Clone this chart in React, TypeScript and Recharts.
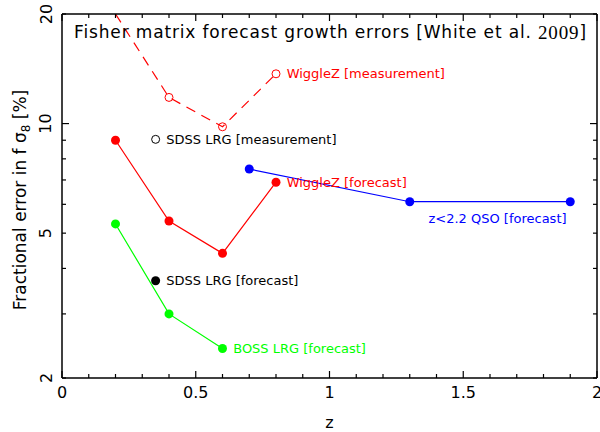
import React from 'react';
import { ComposedChart, Line, XAxis, YAxis, ReferenceDot, Customized } from 'recharts';

// ---- data ----
const wigglezZ = [0.2, 0.4, 0.6, 0.8];
const wigglezMeasErr = [20, 11.8, 9.8, 13.7];
const wigglezFcErr = [9.0, 5.4, 4.4, 6.9];
const bossZ = [0.2, 0.4, 0.6];
const bossErr = [5.3, 3.0, 2.41];
const qsoZ = [0.7, 1.3, 1.9];
const qsoErr = [7.5, 6.1, 6.1];
const sdssZ = [0.35];
const sdssMeasErr = [9.05];
const sdssFcErr = [3.7];

const xTicks = [0, 0.1, 0.2, 0.3, 0.4, 0.5, 0.6, 0.7, 0.8, 0.9, 1, 1.1, 1.2, 1.3, 1.4, 1.5, 1.6, 1.7, 1.8, 1.9, 2];
const xMajorTicks = [0, 0.5, 1, 1.5, 2];
const xTickLabels = ['0', '0.5', '1', '1.5', '2'];
const yTicks = [2, 3, 4, 5, 6, 7, 8, 9, 10, 20];
const yMajorTicks = [10];
const yLabelTicks = [2, 5, 10, 20];

const labelTexts = ['WiggleZ [measurement]', 'SDSS LRG [measurement]', 'WiggleZ [forecast]', 'z<2.2 QSO [forecast]', 'SDSS LRG [forecast]', 'BOSS LRG [forecast]'];
const labelZ = [0.84, 0.39, 0.84, 1.37, 0.39, 0.64];
const labelErr = [13.7, 9.05, 6.9, 5.5, 3.7, 2.41];

const titleText = 'Fisher matrix forecast growth errors [White et al. ';
const titleYear = '2009';
const titleClose = ']';
const titleZ = 0.045;
const titleErr = 17.9;

const yTitle = 'Fractional error in f σ';
const yTitleSub = '8';
const yTitleEnd = ' [%]';
const xTitle = 'z';

// ---- styles ----
const RED = '#ff0000';
const GREEN = '#00ff00';
const BLUE = '#0000ff';
const BLACK = '#000000';
const labelColors = [RED, BLACK, RED, BLUE, BLACK, GREEN];
const FONT = 'DejaVu Sans';

const toPts = (zs: number[], ys: number[]) => zs.map((z, i) => ({ z, y: ys[i] }));
const wigglezMeas = toPts(wigglezZ, wigglezMeasErr);
const wigglezFc = toPts(wigglezZ, wigglezFcErr);
const boss = toPts(bossZ, bossErr);
const qso = toPts(qsoZ, qsoErr);
const sdssMeas = toPts(sdssZ, sdssMeasErr);
const sdssFc = toPts(sdssZ, sdssFcErr);

const near = (a: number, b: number) => Math.abs(a - b) < 1e-6;

const BottomTick = (p: any) => {
  const v = p.payload.value;
  const idx = xMajorTicks.findIndex((m) => near(m, v));
  const major = idx >= 0;
  const y0 = p.y;
  return (
    <g>
      <line x1={p.x} x2={p.x} y1={y0} y2={y0 - (major ? 7 : 4)} stroke={BLACK} strokeWidth={1.2} />
      {major && (
        <text x={p.x} y={y0 + 20} textAnchor="middle" fontFamily={FONT} fontSize={16} fill={BLACK}>
          {xTickLabels[idx]}
        </text>
      )}
    </g>
  );
};

const TopTick = (p: any) => {
  const v = p.payload.value;
  const major = xMajorTicks.some((m) => near(m, v));
  return <line x1={p.x} x2={p.x} y1={p.y} y2={p.y + (major ? 7 : 4)} stroke={BLACK} strokeWidth={1.2} />;
};

const LeftTick = (p: any) => {
  const v = p.payload.value;
  const major = yMajorTicks.some((m) => near(m, v));
  const lab = yLabelTicks.some((m) => near(m, v));
  const tx = p.x - 16;
  return (
    <g>
      <line x1={p.x} x2={p.x + (major ? 7 : 4)} y1={p.y} y2={p.y} stroke={BLACK} strokeWidth={1.2} />
      {lab && (
        <text
          x={tx}
          y={p.y}
          transform={`rotate(-90 ${tx} ${p.y})`}
          textAnchor="middle"
          dominantBaseline="central"
          fontFamily={FONT}
          fontSize={16}
          fill={BLACK}
        >
          {String(v)}
        </text>
      )}
    </g>
  );
};

const RightTick = (p: any) => {
  const v = p.payload.value;
  const major = yMajorTicks.some((m) => near(m, v));
  return <line x1={p.x} x2={p.x - (major ? 7 : 4)} y1={p.y} y2={p.y} stroke={BLACK} strokeWidth={1.2} />;
};

const OpenDot = (color: string, skipFirst: boolean) => (p: any) => {
  if (skipFirst && p.index === 0) return <g key={`d${p.index}`} />;
  return <circle key={`d${p.index}`} cx={p.cx} cy={p.cy} r={4} fill="none" stroke={color} strokeWidth={1} />;
};

const FilledDot = (color: string) => ({ r: 4.5, fill: color, stroke: color, strokeWidth: 0 });

const AxisTitles = (props: any) => {
  const off = props.offset ?? { left: 62, top: 14, width: 535, height: 364 };
  const cy = off.top + off.height / 2 + 4;
  const cx = off.left + off.width / 2;
  return (
    <g>
      <text
        x={26}
        y={cy}
        transform={`rotate(-90 26 ${cy})`}
        textAnchor="middle"
        fontFamily={FONT}
        fontSize={17}
        fill={BLACK}
      >
        {yTitle}
        <tspan fontSize={12} dy={4}>{yTitleSub}</tspan>
        <tspan dy={-4}>{yTitleEnd}</tspan>
      </text>
      <text x={cx} y={428} textAnchor="middle" fontFamily={FONT} fontSize={16} fill={BLACK}>
        {xTitle}
      </text>
    </g>
  );
};

export default function App() {
  return (
    <div style={{ position: 'absolute', left: 0, top: 0, background: '#fff' }}>
      <ComposedChart width={600} height={432} margin={{ top: 13, right: 2, bottom: 53, left: 61 }}>
        <XAxis
          dataKey="z"
          type="number"
          domain={[0, 2]}
          ticks={xTicks}
          interval={0}
          height={1}
          tickSize={0}
          tickMargin={0}
          tickLine={false}
          tick={<BottomTick />}
          axisLine={{ stroke: BLACK, strokeWidth: 1.5 }}
          allowDataOverflow
        />
        <XAxis
          xAxisId="top"
          orientation="top"
          dataKey="z"
          type="number"
          domain={[0, 2]}
          ticks={xTicks}
          interval={0}
          height={1}
          tickSize={0}
          tickMargin={0}
          tickLine={false}
          tick={<TopTick />}
          axisLine={{ stroke: BLACK, strokeWidth: 1.5 }}
          allowDataOverflow
        />
        <YAxis
          type="number"
          scale="log"
          domain={[2, 20]}
          ticks={yTicks}
          interval={0}
          width={1}
          tickSize={0}
          tickMargin={0}
          tickLine={false}
          tick={<LeftTick />}
          axisLine={{ stroke: BLACK, strokeWidth: 1.5 }}
          allowDataOverflow
        />
        <YAxis
          yAxisId="right"
          orientation="right"
          type="number"
          scale="log"
          domain={[2, 20]}
          ticks={yTicks}
          interval={0}
          width={1}
          tickSize={0}
          tickMargin={0}
          tickLine={false}
          tick={<RightTick />}
          axisLine={{ stroke: BLACK, strokeWidth: 1.5 }}
          allowDataOverflow
        />

        <Line data={wigglezMeas} dataKey="y" stroke={RED} strokeWidth={1.2} strokeDasharray="10 7" dot={OpenDot(RED, true)} isAnimationActive={false} />
        <Line data={wigglezFc} dataKey="y" stroke={RED} strokeWidth={1.2} dot={FilledDot(RED)} isAnimationActive={false} />
        <Line data={boss} dataKey="y" stroke={GREEN} strokeWidth={1.2} dot={FilledDot(GREEN)} isAnimationActive={false} />
        <Line data={qso} dataKey="y" stroke={BLUE} strokeWidth={1.2} dot={FilledDot(BLUE)} isAnimationActive={false} />
        <Line data={sdssMeas} dataKey="y" stroke="none" dot={OpenDot(BLACK, false)} isAnimationActive={false} />
        <Line data={sdssFc} dataKey="y" stroke="none" dot={FilledDot(BLACK)} isAnimationActive={false} />

        {labelTexts.map((t, i) => (
          <ReferenceDot
            key={t}
            x={labelZ[i]}
            y={labelErr[i]}
            r={1}
            ifOverflow="visible"
            shape={(p: any) => (
              <text x={p.cx} y={p.cy} dominantBaseline="central" fontFamily={FONT} fontSize={13} fill={labelColors[i]}>
                {t}
              </text>
            )}
          />
        ))}
        <ReferenceDot
          x={titleZ}
          y={titleErr}
          r={1}
          ifOverflow="visible"
          shape={(p: any) => (
            <text x={p.cx} y={p.cy} dominantBaseline="central" fontFamily={FONT} fontSize={17} letterSpacing={0.85} fill={BLACK}>
              {titleText}
              <tspan fontFamily="Liberation Serif" fontSize={19}>{titleYear}</tspan>
              {titleClose}
            </text>
          )}
        />
        <Customized component={AxisTitles} />
      </ComposedChart>
    </div>
  );
}
